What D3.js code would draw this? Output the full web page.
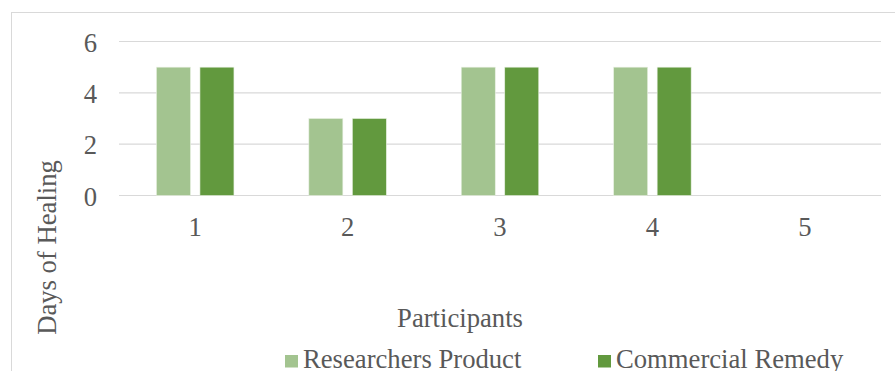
<!DOCTYPE html>
<html>
<head>
<meta charset="utf-8">
<script src="https://cdn.jsdelivr.net/npm/d3@7"></script>
<style>
  html, body { margin: 0; padding: 0; background: #fff; }
  svg { display: block; }
</style>
</head>
<body>
<svg id="chart" width="895" height="371"></svg>
<script>
// Healing time per participant for the two treatments
const participants = ["1", "2", "3", "4", "5"];
const seriesNames = ["Researchers Product", "Commercial Remedy"];
const researchersProduct = [5, 3, 5, 5, 0];
const commercialRemedy = [5, 3, 5, 5, 0];
const yTicks = [0, 2, 4, 6];
const colors = ["#a3c490", "#62993e"];

const FONT = "'Liberation Serif', 'Times New Roman', serif";
const TEXT_COLOR = "#595959";
const FONT_SIZE = 26.67;

const svg = d3.select("#chart");
const plot = { left: 119, right: 881, top: 41.5, bottom: 195.5 };

// Chart frame (extends past the visible area on the right and bottom)
svg.append("rect")
  .attr("x", 11.5).attr("y", 12.5)
  .attr("width", 1000).attr("height", 1000)
  .attr("fill", "#fff").attr("stroke", "#d9d9d9").attr("stroke-width", 1);

const x = d3.scaleBand().domain(participants)
  .range([plot.left, plot.right]).paddingInner(0).paddingOuter(0);
const y = d3.scaleLinear().domain([0, 6]).range([plot.bottom, plot.top]);

// Gridlines
svg.append("g").selectAll("line").data(yTicks).join("line")
  .attr("x1", plot.left).attr("x2", plot.right)
  .attr("y1", d => y(d)).attr("y2", d => y(d))
  .attr("stroke", "#d9d9d9").attr("stroke-width", 1.2);

// Bars: each category holds two side-by-side bars with a small gap
const barW = 34, barGap = 9.5;
const table = participants.map((p, i) => ({ p, values: [researchersProduct[i], commercialRemedy[i]] }));
const groups = svg.append("g").selectAll("g").data(table).join("g")
  .attr("transform", d => `translate(${x(d.p) + x.bandwidth() / 2},0)`);
groups.selectAll("rect").data(d => d.values.map((v, k) => ({ v, k }))).join("rect")
  .attr("x", d => d.k === 0 ? -(barW + barGap / 2) : barGap / 2)
  .attr("width", barW)
  .attr("y", d => y(d.v))
  .attr("height", d => y(0) - y(d.v))
  .attr("fill", d => colors[d.k])
  .attr("stroke", "#e8f0e2").attr("stroke-width", 0.6);

function styleText(sel) {
  sel.style("font-family", FONT).style("font-size", FONT_SIZE + "px").style("fill", TEXT_COLOR);
}

// Y axis tick labels
const yAxis = d3.axisLeft(y).tickValues(yTicks).tickSize(0).tickFormat(d3.format("d"));
const gy = svg.append("g").attr("transform", `translate(${plot.left},0)`).call(yAxis);
gy.select(".domain").remove();
gy.selectAll("text")
  .attr("x", -22).attr("y", 9.5).attr("dy", null)
  .call(styleText);

// X axis tick labels
const xAxis = d3.axisBottom(x).tickSize(0);
const gx = svg.append("g").attr("transform", `translate(0,${plot.bottom})`).call(xAxis);
gx.select(".domain").remove();
gx.selectAll("text")
  .attr("x", 0).attr("y", 40.5).attr("dy", null)
  .call(styleText);

// Axis titles
svg.append("text")
  .attr("transform", "translate(56,247.5) rotate(-90)")
  .attr("text-anchor", "middle")
  .text("Days of Healing").call(styleText);
svg.append("text")
  .attr("x", 460).attr("y", 327)
  .attr("text-anchor", "middle")
  .text("Participants").call(styleText);

// Legend
const legendX = [285, 598];
const legend = svg.append("g").selectAll("g").data(seriesNames).join("g")
  .attr("transform", (d, i) => `translate(${legendX[i]},355)`);
legend.append("rect").attr("width", 13).attr("height", 12.5)
  .attr("fill", (d, i) => colors[i]);
legend.append("text")
  .attr("x", 18).attr("y", 13)
  .text(d => d).call(styleText);
</script>
</body>
</html>
